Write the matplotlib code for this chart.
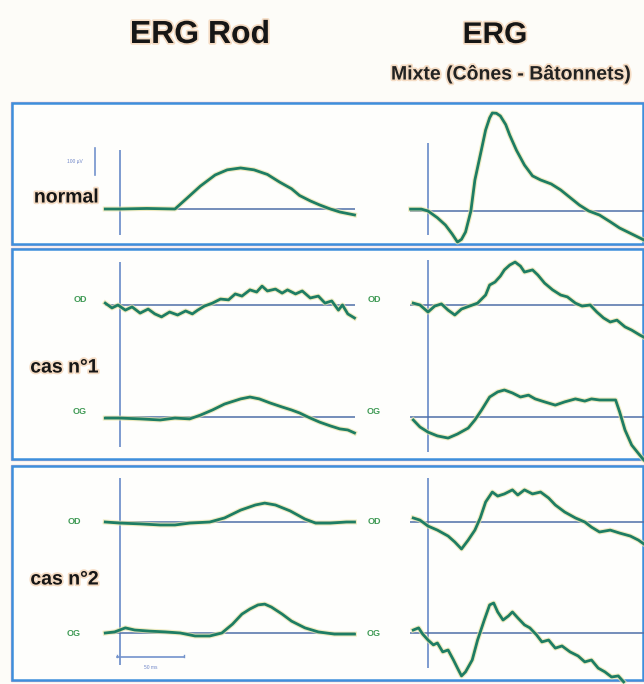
import matplotlib
matplotlib.use("Agg")
import matplotlib.pyplot as plt
import matplotlib.patheffects as pe
from matplotlib.patches import Rectangle

# ERG traces: time in ms after the flash, amplitude in microvolts
# normal
rod_normal_t = [-11, 0, 20, 41, 50, 60, 71, 80, 90, 100, 110, 119, 128, 134, 142, 149, 157, 164, 175]
rod_normal_v = [0, 0, 2, 0, 40, 85, 126, 145, 152, 145, 128, 100, 75, 50, 30, 15, 0, -11, -22]
mix_normal_t = [-13, -5, 0, 7, 13, 18, 22, 25, 28, 32, 35, 40, 43, 46, 48, 51, 54, 58, 61, 66, 72,
                78, 84, 92, 99, 106, 113, 120, 128, 136, 143, 152, 161]
mix_normal_v = [7, 7, 0, -25, -52, -85, -115, -105, -78, 0, 115, 230, 300, 345, 363, 362, 352, 320,
                281, 225, 170, 130, 115, 100, 78, 50, 22, 0, -15, -40, -63, -85, -107]

# cas n°1
rod_c1_od_t = [-11, -6, -1.5, 4, 9, 15, 21, 26, 31, 37, 43, 49, 54, 58, 63, 69, 75, 81, 86, 91, 97,
               102, 106, 110, 116, 121, 125, 131, 136, 142, 148, 153, 158, 163, 166, 170, 175]
rod_c1_od_v = [7, -11, 0, -19, -7, -30, -15, -33, -44, -26, -37, -22, -33, -19, -4, 7, 22, 19, 41, 33,
               56, 48, 70, 52, 59, 44, 56, 41, 52, 26, 33, 7, 15, -19, 0, -33, -48]
mix_c1_od_t = [-11, -6, 0, 5, 10, 15, 20, 25, 31, 37, 43, 46, 50, 54, 57, 61, 65, 69, 72, 78, 82, 87,
               93, 99, 104, 110, 115, 121, 126, 131, 136, 141, 147, 152, 158, 161]
mix_c1_od_v = [7, 0, -26, -4, 4, -19, -37, -15, -4, 7, 37, 74, 85, 107, 130, 148, 159, 144, 122, 130,
               111, 81, 56, 37, 30, 7, -4, 0, -26, -48, -63, -56, -81, -93, -111, -119]
rod_c1_og_t = [-11, 0, 15, 30, 41, 52, 60, 69, 78, 90, 97, 104, 112, 121, 128, 134, 142, 149, 157,
               164, 170, 175]
rod_c1_og_v = [-4, -4, -7, -11, -4, -7, 7, 26, 48, 67, 74, 67, 52, 37, 26, 15, -4, -19, -33, -44, -48, -59]
mix_c1_og_t = [-11, -6, 0, 7, 15, 22, 30, 35, 40, 46, 52, 57, 63, 69, 75, 80, 87, 95, 102, 110, 117,
               122, 128, 136, 140, 143, 147, 152, 158, 161]
mix_c1_og_v = [-11, -37, -56, -70, -78, -63, -41, -11, 26, 74, 93, 100, 89, 74, 81, 67, 56, 44, 56,
               67, 59, 67, 63, 63, 63, 19, -48, -104, -141, -159]

# cas n°2
rod_c2_od_t = [-11, 0, 15, 30, 41, 52, 67, 78, 90, 101, 108, 116, 127, 138, 146, 157, 169, 175]
rod_c2_od_v = [0, -4, -7, -11, -11, -4, 0, 15, 44, 63, 70, 63, 41, 11, -4, -4, 0, 0]
mix_c2_od_t = [-11, -6, 0, 7, 15, 20, 25, 30, 35, 39, 43, 48, 52, 57, 63, 67, 72, 78, 84, 90, 95, 102,
               110, 117, 122, 128, 136, 143, 151, 157, 161]
mix_c2_od_v = [15, 7, -15, -30, -52, -74, -100, -67, -30, 15, 74, 111, 96, 104, 119, 100, 119, 104,
               111, 89, 63, 37, 15, 0, -19, -37, -30, -41, -52, -67, -81]
rod_c2_og_t = [-11, -4, 4, 11, 22, 34, 45, 56, 67, 76, 84, 91, 97, 103, 108, 113, 121, 128, 138, 148,
               160, 175]
rod_c2_og_v = [0, 4, 19, 11, 7, 4, 0, -11, -11, 0, 33, 70, 89, 104, 107, 96, 70, 44, 19, 4, -4, -4]
mix_c2_og_t = [-11, -7, -4, 0, 4, 7, 11, 15, 19, 22, 25, 28, 33, 37, 42, 46, 49, 52, 56, 60, 63, 67,
               72, 76, 81, 85, 90, 95, 100, 106, 112, 117, 122, 127, 132, 137, 142, 146]
mix_c2_og_v = [11, 19, -4, -26, -44, -37, -70, -63, -100, -130, -159, -144, -100, -26, 48, 104, 111,
               78, 48, 63, 78, 56, 30, 19, -7, -33, -26, -56, -48, -70, -85, -107, -100, -130, -144,
               -163, -159, -181]

eye_labels = ["OD", "OG"]
row_labels = ["normal", "cas n°1", "cas n°2"]

W, H = 644, 684
PX_MS = 1.34   # pixels per ms
PX_UV = 0.27   # pixels per microvolt

TRACE = "#1e7d63"
BASE = "#4f6fa8"
STIM = "#7393cc"
BOX = "#3e8fdc"
BG = "#fdfcf8"

plt.rcParams['font.family'] = ['Liberation Sans', 'DejaVu Sans']

fig = plt.figure(figsize=(W / 100, H / 100), dpi=100)
fig.patch.set_facecolor(BG)


def fx(x):
    return x / W


def fy(y):
    return 1 - y / H


def box_axes(left, right, top, bottom, x0, y0):
    # axes spanning the baseline (x) and the stimulus line (y), 1 ms / 1 uV fixed in pixels
    ax = fig.add_axes([fx(left), fy(bottom), (right - left) / W, (bottom - top) / H])
    ax.set_xlim((left - x0) / PX_MS, (right - x0) / PX_MS)
    ax.set_ylim((y0 - bottom) / PX_UV, (y0 - top) / PX_UV)
    ax.axis('off')
    ax.axvline(0, color=STIM, lw=1.3, zorder=1)
    return ax


halo = [pe.Stroke(linewidth=3.6, foreground="#e9e3a8", alpha=0.7), pe.Normal()]


def trace(ax, t, v, offset=0):
    ax.axhline(offset, color=BASE, lw=1.1, zorder=2)
    ax.plot(t, [a + offset for a in v], color=TRACE, lw=2.0, clip_on=False, zorder=3,
            solid_joinstyle='round', path_effects=halo)


# boxes (behind the axes)
for top, bottom in [(103, 244), (249, 459), (466, 680)]:
    fig.patches.append(Rectangle((fx(11), fy(bottom + 1)), (W - 11) / W, (bottom - top + 2) / H,
                                 transform=fig.transFigure, fill=False, ec="#e6b9c9", lw=1.0,
                                 zorder=-2))
    fig.patches.append(Rectangle((fx(12), fy(bottom)), (W - 13) / W, (bottom - top) / H,
                                 transform=fig.transFigure, facecolor="#fefefc", ec=BOX, lw=1.8,
                                 zorder=-1))

# row: normal
ax = box_axes(105, 355, 150, 235, 120, 209)
trace(ax, rod_normal_t, rod_normal_v)
ax.plot([-19, -19], [126, 226], color=STIM, lw=1.2, clip_on=False)
ax.text(-28, 176, "100 µV", color="#6f86c8", fontsize=3.5, ha='right', va='center')
ax = box_axes(410, 644, 143, 235, 428, 211)
trace(ax, mix_normal_t, mix_normal_v)

# row: cas n°1
off1 = -(417 - 305) / PX_UV
ax = box_axes(105, 355, 262, 447, 120, 305)
trace(ax, rod_c1_od_t, rod_c1_od_v)
trace(ax, rod_c1_og_t, rod_c1_og_v, off1)
ax = box_axes(410, 644, 260, 452, 428, 305)
trace(ax, mix_c1_od_t, mix_c1_od_v)
trace(ax, mix_c1_og_t, mix_c1_og_v, off1)

# row: cas n°2
off2 = -(633 - 522) / PX_UV
ax = box_axes(105, 355, 478, 665, 120, 522)
trace(ax, rod_c2_od_t, rod_c2_od_v)
trace(ax, rod_c2_og_t, rod_c2_og_v, off2)
ax.plot([-2, 48], [off2 - 89, off2 - 89], color=STIM, lw=1.2, clip_on=False)
ax.plot([-2, -2], [off2 - 89, off2 - 80], color=STIM, lw=1.0, clip_on=False)
ax.plot([48, 48], [off2 - 89, off2 - 80], color=STIM, lw=1.0, clip_on=False)
ax.text(23, off2 - 128, "50 ms", color="#6f86c8", fontsize=3.5, ha='center', va='center')
ax = box_axes(410, 644, 478, 668, 428, 522)
trace(ax, mix_c2_od_t, mix_c2_od_v)
trace(ax, mix_c2_og_t, mix_c2_og_v, off2)

# eye labels (small green)
for y, lab in [(300, eye_labels[0]), (412, eye_labels[1]), (521, eye_labels[0]), (633, eye_labels[1])]:
    x_left = 80 if y < 460 else 74
    fig.text(fx(x_left), fy(y), lab, color="#3f9a55", fontsize=6.5, fontweight='bold',
             ha='center', va='center')
    fig.text(fx(374), fy(y), lab, color="#3f9a55", fontsize=6.5, fontweight='bold',
             ha='center', va='center')

# titles and row names
title_fx = [pe.withStroke(linewidth=2.5, foreground="#f5dcc4")]
fig.text(fx(200), fy(35), "ERG Rod", fontsize=23, fontweight='bold', color="#161616",
         ha='center', va='center', path_effects=title_fx)
fig.text(fx(495), fy(35), "ERG", fontsize=21.5, fontweight='bold', color="#161616",
         ha='center', va='center', path_effects=title_fx)
fig.text(fx(511), fy(75), "Mixte (Cônes - Bâtonnets)", fontsize=14, fontweight='bold',
         color="#222222", ha='center', va='center', path_effects=title_fx)
for y, lab in zip([198, 368, 580], row_labels):
    fig.text(fx(99), fy(y), lab, fontsize=14, fontweight='bold', color="#161616",
             ha='right', va='center', path_effects=title_fx)

fig.savefig("out.png", dpi=100, facecolor=fig.get_facecolor())
